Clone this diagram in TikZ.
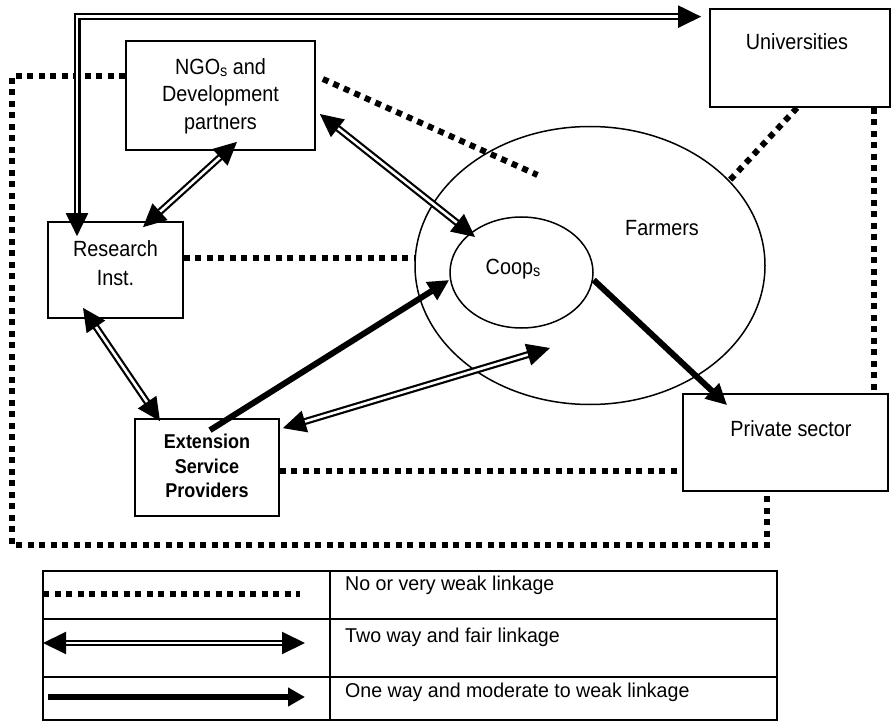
\documentclass[tikz,border=0pt]{standalone}
\usepackage{fontspec}
\setmainfont{Liberation Sans}[FakeStretch=0.9]
\newfontfamily\legendfont{Liberation Sans}[FakeStretch=0.98]
\usetikzlibrary{arrows.meta,calc,shapes.geometric}

% lowered small "s" used in NGOs and Coops
\newcommand{\lowsub}[1]{\raisebox{-2.5pt}{\fontsize{16}{16}\selectfont #1}}

\begin{document}
\begin{tikzpicture}[x=1pt,y=-1pt,
  framebox/.style={draw, line width=1.7pt, inner sep=0pt},
  ring/.style={ellipse, draw, line width=1.5pt, inner sep=0pt},
  lbl/.style={font=\fontsize{22}{27.5}\selectfont, align=center, inner sep=0pt},
  boldlbl/.style={font=\bfseries\fontsize{20}{24.5}\selectfont, align=center, inner sep=0pt},
  legtxt/.style={font=\legendfont\fontsize{20}{24}\selectfont, inner sep=0pt, anchor=west},
  weak/.style={line width=6pt, dash pattern=on 6pt off 5.5pt},
  twoway/.style={double, line width=2.2pt, double distance=2.6pt,
    {Triangle[length=23pt,width=22pt]}-{Triangle[length=23pt,width=22pt]}},
  oneway/.style={line width=6pt, -{Triangle[length=21pt,width=20pt]}},
  grid/.style={line width=1.8pt}
]
\useasboundingbox (0,0) rectangle (892,722);

% actors
\node[framebox, minimum width=189pt, minimum height=109pt] (ngo) at (220.5,95.5) {};
\node[lbl] (ngotxt) at (220.5,96) {NGO\lowsub{s} and\\Development\\partners};

\node[framebox, minimum width=135pt, minimum height=96pt] (res) at (115.5,270) {};
\node[lbl, font=\fontsize{22}{29}\selectfont] (restxt) at (115.5,263) {Research\\Inst.};

\node[framebox, minimum width=144pt, minimum height=97pt] (ext) at (207,467.5) {};
\node[boldlbl] (exttxt) at (207,466) {Extension\\Service\\Providers};

\node[framebox, minimum width=180pt, minimum height=98pt] (uni) at (800,58) {};
\node[lbl] (unitxt) at (797,42) {Universities};

\node[framebox, minimum width=205pt, minimum height=97pt] (priv) at (785.5,442.5) {};
\node[lbl] (privtxt) at (791,429) {Private sector};

\node[ring, minimum width=350pt, minimum height=278pt] (farm) at (590,265.5) {};
\node[lbl] (farmtxt) at (662,228) {Farmers};

\node[ring, minimum width=143pt, minimum height=111pt] (coop) at (521.5,272.5) {};
\node[lbl] (cooptxt) at (513,269) {Coop\lowsub{s}};

% weak links
\coordinate (sw) at (12,545);
\coordinate (ngoend) at (537.5,175);
\draw[weak] ($(ngo.west)+(0,-19.5)$) -| (sw) -| ($(priv.south)+(-18.5,0)$);
\draw[weak] ($(ngo.east)+(7,-16.5)$) -- (ngoend);
\draw[weak] ($(res.east)+(0,-12)$) coordinate (r1) -- (r1 -| farm.west);
\draw[weak] ($(ext.east)+(0,3.5)$) coordinate (e1) -- (e1 -| priv.west);
\draw[weak] ($(uni.south)+(-3,0)$) -- ($(farm.center)+(140,-85.5)$);
\draw[weak] ($(uni.south east)+(-17,0)$) coordinate (u1) -- (u1 |- priv.north);

% two way links
\draw[twoway] ($(res.north)+(-38.5,15)$) |- ($(uni.north west)+(-8,8.5)$);
\draw[twoway] ($(ngo.south)+(16.5,-9)$) -- ($(res.north)+(27.5,6)$);
\draw[twoway] ($(ngo.east)+(4,18.5)$) -- ($(coop.center)+(-46.5,-35.5)$);
\draw[twoway] ($(res.south)+(-32.5,-11)$) -- ($(ext.north)+(-47,3)$);
\draw[twoway] ($(ext.north east)+(3,10)$) -- ($(farm.center)+(-40,82.5)$);

% one way links
\draw[oneway] ($(ext.north)+(3,12)$) -- ($(coop.west)+(0,7.5)$);
\draw[oneway] ($(coop.east)+(0,7.5)$) -- ($(priv.north west)+(45,12)$);

% key
\draw[grid] (43,571) rectangle (777,720);
\draw[grid] (330,571) -- (330,720);
\draw[grid] (43,619) -- (777,619);
\draw[grid] (43,677) -- (777,677);
\coordinate (k1a) at (43,594);  \coordinate (k1b) at (300,594);
\coordinate (k2a) at (43,643);  \coordinate (k2b) at (305,643);
\coordinate (k3a) at (48,697);  \coordinate (k3b) at (305,697);
\draw[weak] (k1a) -- (k1b);
\draw[twoway, line width=2pt, double distance=2pt] (k2a) -- (k2b);
\draw[oneway, -{Triangle[length=17pt,width=18pt]}] (k3a) -- (k3b);
\node[legtxt] (k1) at (345,585) {No or very weak linkage};
\node[legtxt] (k2) at (345,637) {Two way and fair linkage};
\node[legtxt] (k3) at (345,692) {One way and moderate to weak linkage};
\end{tikzpicture}
\end{document}
